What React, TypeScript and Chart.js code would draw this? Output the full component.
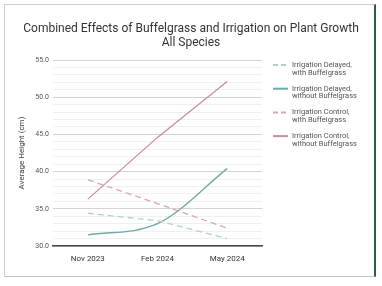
import React, { useEffect, useRef } from "react";
import { Chart, registerables } from "chart.js";

Chart.register(...registerables);

const categories = ["Nov 2023", "Feb 2024", "May 2024"];
const seriesNames = [
  ["Irrigation Delayed,", "with Buffelgrass"],
  ["Irrigation Delayed,", "without Buffelgrass"],
  ["Irrigation Control,", "with Buffelgrass"],
  ["Irrigation Control,", "without Buffelgrass"],
];
const delayedWithBuffel = [34.4, 33.4, 31.0];
const delayedWithoutBuffel = [31.5, 33.0, 40.4];
const controlWithBuffel = [38.9, 35.7, 32.4];
const controlWithoutBuffel = [36.3, 44.6, 52.1];
const seriesColors = ["#a9d2ca", "#6fa9a5", "#e2a3b0", "#cc8ba2"];
const seriesDashed = [true, false, true, false];
const seriesSmooth = [false, true, false, false];
const titleLines = ["Combined Effects of Buffelgrass and Irrigation on Plant Growth", "All Species"];
const yTitle = "Average Height (cm)";
const yMin = 30;
const yMax = 55;

const FONT = "Roboto, 'Noto Sans', sans-serif";

const overlayPlugin = {
  id: "overlay",
  afterDraw(chart: any) {
    const ctx = chart.ctx;
    ctx.save();
    ctx.fillStyle = "#333333";
    ctx.font = `12px ${FONT}`;
    ctx.textAlign = "center";
    ctx.textBaseline = "middle";
    ctx.fillText(titleLines[0], 191, 29);
    ctx.fillText(titleLines[1], 191, 43);
    const x0 = 273;
    const x1 = 288;
    let y = 65;
    ctx.font = `7.5px ${FONT}`;
    ctx.textAlign = "left";
    chart.data.datasets.forEach((ds: any, i: number) => {
      ctx.strokeStyle = ds.borderColor;
      ctx.lineWidth = 2;
      ctx.setLineDash(seriesDashed[i] ? [5, 3] : []);
      ctx.beginPath();
      ctx.moveTo(x0, y);
      ctx.lineTo(x1, y);
      ctx.stroke();
      ctx.setLineDash([]);
      ctx.fillStyle = "#555555";
      const lines = seriesNames[i];
      lines.forEach((ln, j) => ctx.fillText(ln, 292, y + j * 7.8));
      y += 23.7;
    });
    ctx.restore();
  },
};

export default function App() {
  const ref = useRef<HTMLCanvasElement>(null);
  useEffect(() => {
    const values = [delayedWithBuffel, delayedWithoutBuffel, controlWithBuffel, controlWithoutBuffel];
    const chart = new Chart(ref.current as HTMLCanvasElement, {
      type: "line",
      data: {
        labels: categories,
        datasets: values.map((v, i) => ({
          label: seriesNames[i].join(" "),
          data: v,
          borderColor: seriesColors[i],
          backgroundColor: seriesColors[i],
          borderWidth: 1.3,
          borderDash: seriesDashed[i] ? [6, 4] : [],
          pointRadius: 0,
          tension: seriesSmooth[i] ? 0.4 : 0,
          cubicInterpolationMode: seriesSmooth[i] ? ("monotone" as const) : ("default" as const),
          fill: false,
        })),
      },
      options: {
        animation: false,
        responsive: false,
        events: [],
        layout: { padding: { top: 60, right: 120, left: 0, bottom: 0 } },
        plugins: { legend: { display: false }, title: { display: false }, tooltip: { enabled: false } },
        scales: {
          x: {
            offset: true,
            grid: { display: false, drawTicks: false },
            border: { display: true, color: "#444444", width: 1.5 },
            ticks: { color: "#333333", font: { size: 8, family: FONT }, padding: 8, maxRotation: 0 },
            afterFit: (s: any) => { s.height = 40; },
          },
          y: {
            min: yMin,
            max: yMax,
            grid: {
              drawTicks: false,
              color: (c: any) => (c.tick && c.tick.value % 5 === 0 ? "#d4d4d4" : "#f0f0f0"),
              lineWidth: 1,
            },
            border: { display: false },
            ticks: {
              stepSize: 1,
              autoSkip: false,
              color: "#555555",
              font: { size: 7, family: FONT },
              padding: 4,
              callback: (v: any) => (Number(v) % 5 === 0 ? Number(v).toFixed(1) : ""),
            },
            title: {
              display: true,
              text: yTitle,
              color: "#444444",
              font: { size: 8, family: FONT },
              padding: { top: 17, bottom: 0 },
            },
            afterFit: (s: any) => { s.width = 53; },
          },
        },
      },
      plugins: [overlayPlugin],
    });
    return () => chart.destroy();
  }, []);
  return (
    <div>
      <canvas
        ref={ref}
        width={382}
        height={286}
        style={{ position: "fixed", left: 0, top: 0, width: 382, height: 286, background: "#ffffff" }}
      />
      <div
        style={{
          position: "fixed",
          left: 4,
          top: 4,
          width: 369,
          height: 271,
          borderLeft: "1px solid #cfcfcf",
          borderTop: "1px solid #cfcfcf",
          borderBottom: "1px solid #c4c4c4",
          borderRight: "2px solid #2f5a4f",
          pointerEvents: "none",
        }}
      />
    </div>
  );
}
